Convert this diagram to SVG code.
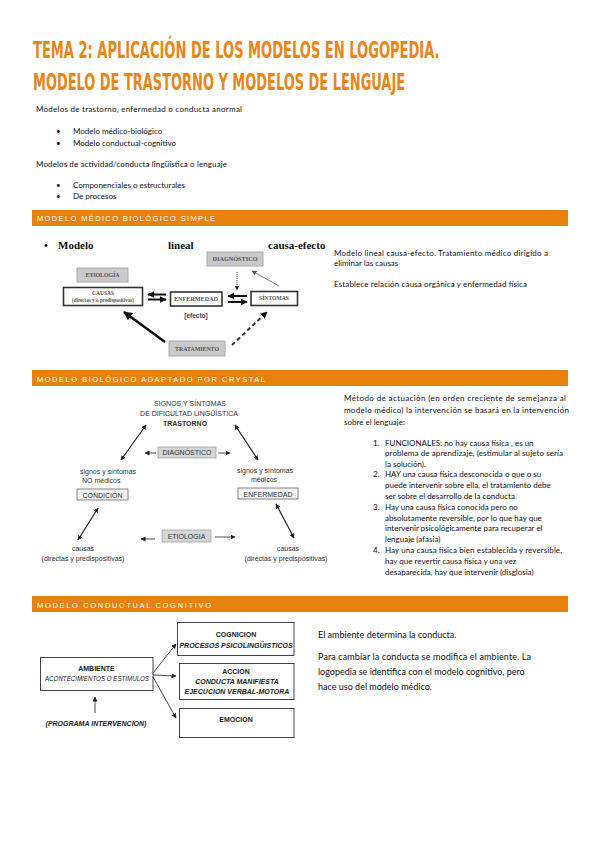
<svg xmlns="http://www.w3.org/2000/svg" width="599" height="848" viewBox="0 0 599 848">
<style>
.title{font-family:"DejaVu Sans Condensed","Liberation Sans Narrow","Liberation Sans",sans-serif;font-weight:bold;font-size:23px;fill:#E8861A}
.body{font-family:Lato,"Open Sans","Liberation Sans",sans-serif;font-size:8px;fill:#111}
.body9{font-family:Lato,"Open Sans","Liberation Sans",sans-serif;font-size:9px;fill:#111}
.bar{fill:#E7820F}
.bartxt{font-family:"Liberation Sans",Arial,sans-serif;font-size:7.5px;fill:#fff}
.serifb{font-family:"Liberation Serif","Times New Roman",serif;font-weight:bold;font-size:11px;fill:#111}
.s1gray{fill:#c9c9c9;stroke:#aaa;stroke-width:1}
.s1box{fill:#fff;stroke:#333;stroke-width:1.6}
.s1t{font-family:"Liberation Serif",serif;font-weight:bold;font-size:5.5px;fill:#555;text-anchor:middle}
.s2{font-family:"Liberation Sans",Arial,sans-serif;font-size:7px;fill:#333}
.s2gray{fill:#d6d6d6;stroke:#999;stroke-width:0.7}
.s2box{fill:#f4f4f4;stroke:#666;stroke-width:0.8}
.s3box{fill:#fff;stroke:#444;stroke-width:1}
.s3{font-family:"Liberation Sans",Arial,sans-serif;font-size:7px;fill:#222;text-anchor:middle}
</style>
<defs>
<marker id="h1" viewBox="0 0 10 10" refX="9" refY="5" markerWidth="7" markerHeight="7" markerUnits="userSpaceOnUse" orient="auto-start-reverse"><path d="M0,0 L10,5 L0,10 z" fill="#111"/></marker>
<marker id="h1b" viewBox="0 0 10 10" refX="9" refY="5" markerWidth="9" markerHeight="9" markerUnits="userSpaceOnUse" orient="auto-start-reverse"><path d="M0,0 L10,5 L0,10 z" fill="#111"/></marker>
<marker id="h2" viewBox="0 0 10 10" refX="9" refY="5" markerWidth="5" markerHeight="5" markerUnits="userSpaceOnUse" orient="auto-start-reverse"><path d="M0,0 L10,5 L0,10 z" fill="#222"/></marker>
<marker id="hg" viewBox="0 0 10 10" refX="9" refY="5" markerWidth="5" markerHeight="5" markerUnits="userSpaceOnUse" orient="auto-start-reverse"><path d="M0,0 L10,5 L0,10 z" fill="#555"/></marker>
</defs>
<rect width="599" height="848" fill="#fff"/>

<!-- Title -->
<g id="title">
<text class="title" transform="translate(33,58) scale(0.632,1)">TEMA 2: APLICACIÓN DE LOS MODELOS EN LOGOPEDIA.</text>
<text class="title" transform="translate(33,90) scale(0.627,1)">MODELO DE TRASTORNO Y MODELOS DE LENGUAJE</text>
</g>

<!-- Intro lists -->
<text class="body" x="36" y="111.5" textLength="206">Modelos de trastorno, enfermedad o conducta anormal</text>
<text class="body" x="56" y="133.5">•</text>
<text class="body" x="73" y="133.5">Modelo médico-biológico</text>
<text class="body" x="56" y="145.5">•</text>
<text class="body" x="73" y="145.5">Modelo conductual-cognitivo</text>
<text class="body" x="36" y="166.5" textLength="191">Modelos de actividad/conducta lingüística o lenguaje</text>
<text class="body" x="56" y="187.5">•</text>
<text class="body" x="73" y="187.5">Componenciales o estructurales</text>
<text class="body" x="56" y="198.5">•</text>
<text class="body" x="73" y="198.5">De procesos</text>

<!-- Section 1 -->
<rect class="bar" x="32" y="210" width="536" height="16"/>
<text class="bartxt" x="37" y="221" textLength="178" lengthAdjust="spacing">MODELO MÉDICO BIOLÓGICO SIMPLE</text>

<g id="s1-heading">
<text class="serifb" x="44" y="249">•</text>
<text class="serifb" x="58" y="249">Modelo</text>
<text class="serifb" x="168" y="249">lineal</text>
<text class="serifb" x="268" y="249">causa-efecto</text>
</g>
<g id="diagnostico1"><rect class="s1gray" x="207" y="252" width="56" height="14"/><text class="s1t" x="235" y="261" textLength="45" lengthAdjust="spacingAndGlyphs">DIAGNÓSTICO</text></g>
<g id="etiologia1"><rect class="s1gray" x="77" y="268" width="51" height="14"/><text class="s1t" x="102.5" y="277" textLength="34" lengthAdjust="spacingAndGlyphs">ETIOLOGÍA</text></g>
<g id="causas1"><rect class="s1box" x="63.5" y="287.5" width="79" height="18"/><text class="s1t" x="103" y="295" fill="#333">CAUSAS</text><text class="s1t" x="103" y="301.5" font-size="4.3" font-weight="normal" textLength="62" lengthAdjust="spacingAndGlyphs">(directas y/o predispositivas)</text></g>
<g id="enfermedad1"><rect class="s1box" x="170.5" y="292" width="51.5" height="14"/><text class="s1t" x="196" y="301" fill="#333" textLength="44" lengthAdjust="spacingAndGlyphs">ENFERMEDAD</text></g>
<g id="sintomas1"><rect class="s1box" x="251" y="291.5" width="46.5" height="14"/><text class="s1t" x="274" y="300" fill="#333" textLength="30" lengthAdjust="spacingAndGlyphs">SÍNTOMAS</text></g>
<g id="tratamiento1"><rect class="s1gray" x="169" y="341" width="56" height="15"/><text class="s1t" x="197" y="350.5" textLength="44" lengthAdjust="spacingAndGlyphs">TRATAMIENTO</text></g>
<text x="196" y="318" font-family="Liberation Sans,Arial,sans-serif" font-weight="bold" font-size="6.5" fill="#444" text-anchor="middle">[efecto]</text>

<g id="connectors1" fill="none" stroke="#111">
<line x1="166" y1="294.5" x2="148" y2="294.5" stroke-width="2" marker-end="url(#h1)"/>
<line x1="148" y1="299.5" x2="166" y2="299.5" stroke-width="2" marker-end="url(#h1)"/>
<line x1="247" y1="296" x2="228" y2="296" stroke-width="2" marker-end="url(#h1)"/>
<line x1="228" y1="302" x2="247" y2="302" stroke-width="2" marker-end="url(#h1)"/>
<line x1="237" y1="272" x2="237" y2="290" stroke-width="1" stroke-dasharray="1,1" stroke="#333" marker-end="url(#h2)"/>
<line x1="279" y1="286" x2="252" y2="271" stroke-width="0.7" stroke="#444" marker-end="url(#hg)"/>
<line x1="165" y1="342" x2="124" y2="312" stroke-width="2.5" marker-end="url(#h1b)"/>
<line x1="232" y1="345" x2="267" y2="312" stroke-width="2" stroke="#333" stroke-dasharray="4,3" marker-end="url(#h1)"/>
</g>

<g id="s1-text">
<text class="body" x="334" y="255.5" textLength="214">Modelo lineal causa-efecto. Tratamiento médico dirigido a</text>
<text class="body" x="334" y="266">eliminar las causas</text>
<text class="body" x="334" y="286.5" textLength="193">Establece relación causa orgánica y enfermedad física</text>
</g>

<!-- Section 2 -->
<rect class="bar" x="32" y="370" width="536" height="16"/>
<text class="bartxt" x="37" y="381.5" textLength="228" lengthAdjust="spacing">MODELO BIOLÓGICO ADAPTADO POR CRYSTAL</text>

<g id="trastorno">
<text class="s2" x="190" y="405.5" text-anchor="middle">SIGNOS Y SÍNTOMAS</text>
<text class="s2" x="189" y="415.5" text-anchor="middle">DE DIFICULTAD LINGÜÍSTICA</text>
<text class="s2" x="185" y="425.5" text-anchor="middle" font-weight="bold">TRASTORNO</text>
</g>
<g id="diagnostico2"><rect class="s2gray" x="158" y="447" width="58" height="11"/><text class="s2" x="187" y="455" text-anchor="middle">DIAGNÓSTICO</text></g>
<g id="condicion">
<text class="s2" x="80" y="473.5">signos y síntomas</text>
<text class="s2" x="82" y="483">NO médicos</text>
<rect class="s2box" x="77" y="489" width="51" height="11"/><text class="s2" x="102.5" y="497.5" text-anchor="middle">CONDICIÓN</text>
</g>
<g id="enfermedad2">
<text class="s2" x="265" y="472.5" text-anchor="middle">signos y síntomas</text>
<text class="s2" x="264" y="482" text-anchor="middle">médicos</text>
<rect class="s2box" x="238" y="488" width="60" height="11"/><text class="s2" x="268" y="496.5" text-anchor="middle">ENFERMEDAD</text>
</g>
<g id="etiologia2"><rect class="s2gray" x="162" y="530" width="49" height="12"/><text class="s2" x="186.5" y="538.5" text-anchor="middle">ETIOLOGIA</text></g>
<g id="causas2a"><text class="s2" x="83" y="550.5" text-anchor="middle">causas</text><text class="s2" x="83" y="560.5" text-anchor="middle">(directas y predispositivas)</text></g>
<g id="causas2b"><text class="s2" x="288" y="550.5" text-anchor="middle">causas</text><text class="s2" x="286" y="560.5" text-anchor="middle">(directas y predispositivas)</text></g>

<g id="connectors2" fill="none" stroke="#222" stroke-width="1.2">
<line x1="121" y1="460" x2="146" y2="425" marker-start="url(#h2)" marker-end="url(#h2)"/>
<line x1="235" y1="425" x2="258" y2="460" marker-start="url(#h2)" marker-end="url(#h2)"/>
<line x1="156" y1="453" x2="145" y2="453" stroke-width="0.8" marker-end="url(#h2)"/>
<line x1="218" y1="453" x2="230" y2="453" stroke-width="0.8" marker-end="url(#h2)"/>
<line x1="98" y1="508" x2="78" y2="540" marker-start="url(#h2)" marker-end="url(#h2)"/>
<line x1="276" y1="504" x2="294" y2="538" marker-start="url(#h2)" marker-end="url(#h2)"/>
<line x1="155" y1="539" x2="141" y2="539" stroke-width="0.8" marker-end="url(#h2)"/>
<line x1="215" y1="537" x2="235" y2="537" stroke-width="0.8" marker-end="url(#h2)"/>
</g>

<g id="s2-text">
<text class="body" x="344" y="400.5" textLength="222">Método de actuación (en orden creciente de semejanza al</text>
<text class="body" x="344" y="412.5" textLength="225">modelo médico) la intervención se basará en la intervención</text>
<text class="body" x="344" y="424.5">sobre el lenguaje:</text>
<text class="body" x="373" y="445.5">1.</text>
<text class="body" x="385" y="445.5">FUNCIONALES: no hay causa física , es un</text>
<text class="body" x="385" y="456" textLength="178">problema de aprendizaje, (estimular al sujeto sería</text>
<text class="body" x="385" y="466.5">la solución).</text>
<text class="body" x="373" y="477">2.</text>
<text class="body" x="385" y="477">HAY una causa física desconocida o que o su</text>
<text class="body" x="385" y="488">puede intervenir sobre ella, el tratamiento debe</text>
<text class="body" x="385" y="498.5">ser sobre el desarrollo de la conducta</text>
<text class="body" x="373" y="509.5">3.</text>
<text class="body" x="385" y="509.5">Hay una causa física conocida pero no</text>
<text class="body" x="385" y="520.5">absolutamente reversible, por lo que hay que</text>
<text class="body" x="385" y="531">intervenir psicológicamente para recuperar el</text>
<text class="body" x="385" y="542">lenguaje (afasia)</text>
<text class="body" x="373" y="552.5">4.</text>
<text class="body" x="385" y="552.5" textLength="177">Hay una causa física bien establecida y reversible,</text>
<text class="body" x="385" y="563.5">hay que revertir causa física y una vez</text>
<text class="body" x="385" y="574.5">desaparecida, hay que intervenir (disglosia)</text>
</g>

<!-- Section 3 -->
<rect class="bar" x="32" y="596" width="536" height="16"/>
<text class="bartxt" x="37" y="607.5" textLength="174" lengthAdjust="spacing">MODELO CONDUCTUAL COGNITIVO</text>

<g id="ambiente"><rect class="s3box" x="40.5" y="657.5" width="112.5" height="33"/>
<text class="s3" x="96.5" y="671" font-weight="bold">AMBIENTE</text>
<text class="s3" x="97" y="681" font-style="italic" font-size="6.3" textLength="104" lengthAdjust="spacingAndGlyphs">ACONTECIMIENTOS O ESTIMULOS</text></g>
<g id="cognicion"><rect class="s3box" x="177.5" y="622.5" width="116.5" height="33"/>
<text class="s3" x="236" y="637" font-weight="bold">COGNICION</text>
<text class="s3" x="236" y="648" font-style="italic" font-weight="bold" font-size="4.8">PROCESOS PSICOLINGÜISTICOS</text></g>
<g id="accion"><rect class="s3box" x="179.5" y="663.5" width="114.5" height="36"/>
<text class="s3" x="236" y="674" font-weight="bold">ACCION</text>
<text class="s3" x="237" y="684" font-weight="bold" font-style="italic">CONDUCTA MANIFIESTA</text>
<text class="s3" x="237" y="694" font-style="italic" font-weight="bold" font-size="4.8">EJECUCION VERBAL-MOTORA</text></g>
<g id="emocion"><rect class="s3box" x="179.5" y="708.5" width="114.5" height="29"/>
<text class="s3" x="236" y="722" font-weight="bold">EMOCION</text></g>
<g id="programa"><text class="s3" x="96" y="726" font-style="italic" font-weight="bold" font-size="5">(PROGRAMA INTERVENCION)</text></g>

<g id="connectors3" fill="none" stroke="#333" stroke-width="0.9">
<line x1="153" y1="673" x2="176" y2="644" marker-end="url(#h2)"/>
<line x1="153" y1="675" x2="176" y2="676" marker-end="url(#h2)"/>
<line x1="153" y1="677" x2="176" y2="718" marker-end="url(#h2)"/>
<line x1="95" y1="713" x2="95" y2="697" marker-end="url(#h2)"/>
</g>

<g id="s3-text">
<text class="body9" x="318" y="638">El ambiente determina la conducta.</text>
<text class="body9" x="318" y="660" textLength="213">Para cambiar la conducta se modifica el ambiente. La</text>
<text class="body9" x="318" y="675">logopedia se identifica con el modelo cognitivo, pero</text>
<text class="body9" x="318" y="689.5">hace uso del modelo médico.</text>
</g>
</svg>
